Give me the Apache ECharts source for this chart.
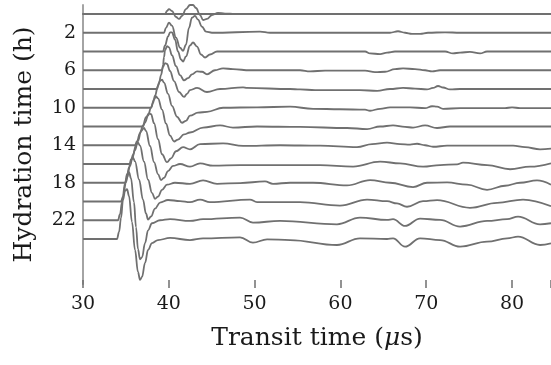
<!DOCTYPE html>
<html>
<head>
<meta charset="utf-8">
<script src="https://cdn.jsdelivr.net/npm/echarts@6/dist/echarts.min.js"></script>
<style>
  html, body { margin: 0; padding: 0; background: #ffffff; }
  #chart { width: 551px; height: 365px; }
</style>
</head>
<body>
<div id="chart"></div>
<script>
// Hydration time of each recorded trace (h)
const hours = [0, 2, 4, 6, 8, 10, 12, 14, 16, 18, 20, 22, 24];
// Labelled hours on the vertical axis
const hourLabels = [2, 6, 10, 14, 18, 22];
// Transit time ticks (µs)
const timeTicks = [30, 40, 50, 60, 70, 80];

// Each trace: [transit time (µs), signal amplitude in hour units, upward positive]
const trace00 = [[30,0],[39.56,0],[39.79,0.32],[40.02,0.53],[40.37,0.32],[40.84,-0.32],[41.19,-0.53],[41.54,-0.21],[42.00,0.53],[42.47,0.96],[42.82,0.96],[43.17,0.64],[43.64,-0.11],[43.99,-0.64],[44.45,-0.53],[45.03,-0.11],[45.73,0.11],[46.55,0.05],[47.72,0],[84.54,0]];
const trace02 = [[30,0],[39.44,0],[39.67,0.53],[40.02,1.07],[40.37,0.75],[40.84,-0.53],[41.31,-1.6],[41.66,-1.92],[42.00,-1.28],[42.35,0.53],[42.70,1.6],[43.05,1.81],[43.40,1.39],[43.87,0.64],[44.34,0.11],[45.03,0],[50.63,0.11],[51.8,0],[65.78,0],[66.71,0.16],[67.53,0],[68.34,-0.11],[69.28,-0.11],[70.21,0],[72.19,0.05],[73.94,0],[84.54,0]];
const trace04 = [[30,0],[39.32,0],[39.56,0.64],[39.91,1.6],[40.14,2.03],[40.37,2.03],[40.72,1.28],[41.07,0],[41.42,-0.85],[41.66,-1.07],[42.00,-0.53],[42.47,0.64],[42.82,0.96],[43.29,0.53],[43.75,-0.32],[44.22,-0.64],[44.80,-0.32],[45.62,0],[62.87,0],[63.45,-0.21],[64.62,-0.27],[65.43,-0.11],[66.36,0],[72.19,0],[73.12,-0.21],[73.94,-0.11],[75.10,-0.05],[76.27,-0.21],[77.09,0],[84.54,0]];
const trace06 = [[30,0],[39.21,0],[39.32,0.53],[39.44,1.39],[39.56,2.13],[39.79,2.56],[40.02,2.45],[40.37,1.6],[40.84,0.43],[41.31,-0.53],[41.77,-1.07],[42.24,-0.85],[42.70,-0.43],[43.29,-0.11],[43.87,-0.16],[44.45,-0.43],[45.38,0],[46.32,0.21],[47.48,0.11],[49.46,0],[55.29,0],[56.46,-0.11],[58.21,-0.05],[62.87,-0.05],[64.03,-0.21],[65.20,-0.16],[66.36,0.11],[67.30,0.21],[68.69,0.11],[69.86,0],[70.68,-0.11],[71.61,0],[84.54,0]];
const trace08 = [[30,0],[38.62,0],[38.86,0.64],[39.09,1.49],[39.32,2.35],[39.56,2.77],[39.79,2.67],[40.14,1.92],[40.61,0.85],[41.19,-0.32],[41.77,-0.85],[42.12,-0.53],[42.47,-0.11],[43.29,0.11],[44.45,-0.32],[45.97,0],[48.65,0.18],[49.11,0.11],[54.13,0],[55.29,-0.05],[57.04,-0.11],[62.28,-0.11],[64.27,-0.21],[65.78,0],[67.30,0.11],[68.69,0.05],[70.09,-0.05],[70.79,0.11],[71.38,0.32],[71.96,0.16],[72.77,-0.05],[73.94,0],[84.54,0]];
const trace10 = [[30,0],[37.93,0],[38.16,0.53],[38.39,1.28],[38.74,2.35],[38.97,2.88],[39.21,2.99],[39.44,2.67],[39.91,1.49],[40.37,0.21],[40.96,-0.96],[41.54,-1.6],[42.00,-1.39],[42.47,-0.85],[43.40,-0.53],[44.45,-0.43],[46.32,0],[50.28,0.05],[54.13,0.11],[56.81,-0.11],[59.95,-0.16],[62.87,-0.21],[63.45,-0.32],[64.62,-0.11],[65.78,0.05],[68.11,0.05],[69.86,-0.05],[70.68,0.16],[71.26,0.11],[71.96,-0.11],[73.94,-0.05],[79.18,-0.05],[80.00,0.05],[80.93,-0.05],[84.54,-0.05]];
const trace12 = [[30,0],[36.99,0],[37.23,0.43],[37.58,1.17],[37.93,2.03],[38.28,2.88],[38.51,3.2],[38.74,2.99],[39.21,1.81],[39.67,0.32],[40.14,-0.96],[40.61,-1.6],[41.07,-1.39],[41.77,-0.85],[42.47,-0.64],[43.99,-0.11],[45.97,0.11],[47.48,-0.11],[50.28,0],[55.29,-0.05],[60.77,-0.16],[63.10,-0.27],[64.62,0],[66.13,0.11],[67.53,-0.05],[68.46,-0.11],[69.86,0.11],[71.26,-0.16],[72.77,0],[84.54,0]];
const trace14 = [[30,0],[36.06,0],[36.29,0.43],[36.64,1.28],[36.99,2.13],[37.34,2.99],[37.69,3.41],[37.93,3.31],[38.28,2.35],[38.74,0.64],[39.21,-0.96],[39.79,-1.81],[40.26,-1.39],[40.84,-0.64],[41.66,-0.21],[42.47,-0.43],[43.64,0.11],[46.32,0.21],[48.65,-0.07],[52.96,0],[57.62,-0.05],[61.93,-0.21],[63.69,0.11],[65.43,0.27],[66.95,0.11],[68.11,0.07],[68.93,0.16],[69.86,0],[70.79,-0.16],[72.43,-0.05],[80.12,-0.05],[81.51,-0.21],[83.26,-0.43],[84.54,-0.37]];
const trace16 = [[30,0],[35.48,0],[35.71,0.53],[36.06,1.49],[36.41,2.45],[36.76,3.52],[37.11,3.84],[37.34,3.52],[37.81,1.92],[38.28,0.21],[38.74,-1.07],[39.09,-1.71],[39.44,-1.49],[39.91,-0.75],[40.49,-0.21],[41.31,0],[42.47,-0.29],[43.64,0.07],[45.15,-0.18],[48.30,-0.11],[57.62,-0.11],[61.47,-0.27],[64.62,0.25],[66.95,0.07],[69.63,-0.29],[71.61,-0.11],[73.59,-0.03],[74.29,0.14],[77.09,-0.11],[79.77,-0.56],[82.10,-0.29],[84.54,0.07]];
const trace18 = [[30,0],[34.90,0],[35.13,0.53],[35.48,1.81],[35.83,2.99],[36.18,4.05],[36.41,4.27],[36.64,3.95],[37.11,2.24],[37.58,0.32],[38.04,-1.07],[38.39,-1.71],[38.74,-1.49],[39.21,-0.75],[39.79,-0.21],[40.72,0],[42.47,-0.11],[43.99,0.25],[45.62,-0.11],[48.30,-0.03],[51.21,0.14],[52.14,-0.11],[54.13,0],[56.81,0],[60.77,-0.29],[63.45,0.29],[65.78,0],[68.46,-0.46],[70.09,0],[72.43,0.03],[74.75,-0.21],[77.09,-0.75],[79.18,-0.32],[80.93,0],[82.91,0.25],[84.54,-0.21]];
const trace20 = [[30,0],[34.43,0],[34.66,0.53],[35.01,2.03],[35.36,3.63],[35.59,4.48],[35.83,4.69],[36.06,4.27],[36.53,2.35],[36.99,0.21],[37.34,-1.28],[37.58,-1.92],[37.93,-1.6],[38.39,-0.75],[38.97,-0.11],[39.91,0.16],[41.31,0.05],[42.47,-0.07],[43.64,0.21],[44.80,-0.07],[49.46,0.21],[50.28,-0.07],[55.29,-0.07],[59.95,-0.43],[63.10,0.21],[65.43,0.03],[66.60,-0.21],[67.76,-0.56],[69.63,0.03],[71.26,0.14],[75.10,-0.67],[78.25,-0.14],[81.28,0.21],[84.54,-0.5]];
const trace22 = [[30,0],[34.08,0],[34.31,0.64],[34.55,1.92],[34.90,3.95],[35.13,4.91],[35.36,5.12],[35.59,4.48],[35.94,1.92],[36.18,-0.75],[36.41,-3.09],[36.64,-4.16],[36.88,-3.95],[37.23,-2.45],[37.58,-1.07],[38.04,-0.32],[38.97,0],[40.14,0.11],[42.47,-0.07],[43.99,0.11],[48.30,0.29],[49.81,-0.25],[52.96,-0.07],[59.60,-0.43],[62.28,0.29],[65.43,0.03],[66.13,0.11],[67.53,-0.61],[69.28,0.18],[71.61,0.03],[73.94,-0.67],[77.09,-0.07],[79.42,0.11],[80.70,0.39],[83.26,-0.43],[84.54,-0.32]];
const trace24 = [[30,0],[33.96,0],[34.20,0.75],[34.43,2.24],[34.66,4.16],[34.90,5.12],[35.13,5.33],[35.36,4.59],[35.71,1.81],[36.06,-1.17],[36.41,-3.52],[36.64,-4.37],[36.88,-4.05],[37.23,-2.56],[37.58,-1.17],[38.04,-0.43],[38.74,-0.11],[40.14,0.11],[42.47,-0.11],[43.99,0.07],[48.30,0.18],[49.81,-0.39],[51.45,-0.03],[54.13,-0.11],[59.60,-0.64],[62.28,0.07],[65.43,0],[66.13,0.07],[67.53,-0.82],[69.28,0.07],[71.61,-0.11],[73.94,-0.82],[77.09,-0.29],[79.42,0.07],[80.70,0.25],[83.26,-0.64],[84.54,-0.46]];

const traces = [trace00, trace02, trace04, trace06, trace08, trace10, trace12,
                trace14, trace16, trace18, trace20, trace22, trace24];

const serif = 'DejaVu Serif';
const tMin = 30, tMax = 84.54;
const axisGrey = '#6f6f6f';

const chart = echarts.init(document.getElementById('chart'), null, { renderer: 'canvas' });

const series = traces.map((pts, i) => ({
  type: 'line',
  xAxisIndex: 0,
  yAxisIndex: 0,
  data: pts.map(([t, a]) => [t, hours[i] - a]),
  symbol: 'none',
  smooth: 0.4,
  smoothMonotone: 'x',
  clip: false,
  silent: true,
  lineStyle: { color: '#707070', width: 1.8 }
}));

chart.setOption({
  animation: false,
  backgroundColor: '#ffffff',
  grid: { left: 83, right: 0, top: 5, bottom: 81 },
  xAxis: [
    {
      type: 'value',
      min: tMin,
      max: tMax,
      interval: 10,
      position: 'bottom',
      splitLine: { show: false },
      axisLine: { show: true, lineStyle: { color: axisGrey, width: 2 } },
      axisTick: { show: false },
      axisLabel: {
        margin: 11,
        fontFamily: serif,
        fontSize: 19,
        color: '#1a1a1a',
        customValues: timeTicks
      },
      name: 'Transit time ({i|μ}s)',
      nameLocation: 'middle',
      nameGap: 42,
      nameTextStyle: {
        fontFamily: serif,
        fontSize: 25,
        color: '#1a1a1a',
        rich: { i: { fontFamily: serif, fontSize: 25, fontStyle: 'italic', color: '#1a1a1a' } }
      }
    },
    {
      // tick marks that cross the axis line, shifted up by half their length
      type: 'value',
      min: tMin,
      max: tMax,
      interval: 10,
      position: 'bottom',
      offset: -4,
      splitLine: { show: false },
      axisLine: { show: false },
      axisTick: { show: true, length: 8, lineStyle: { color: axisGrey, width: 1.5 } },
      axisLabel: { show: false }
    }
  ],
  yAxis: {
    type: 'value',
    inverse: true,
    min: -0.96,
    max: 28.8,
    splitLine: { show: false },
    axisLine: { show: true, lineStyle: { color: '#a4a4a4', width: 2 } },
    axisTick: { show: false },
    axisLabel: {
      margin: 7,
      fontFamily: serif,
      fontSize: 19,
      color: '#1a1a1a',
      customValues: hourLabels
    },
    name: 'Hydration time (h)',
    nameLocation: 'middle',
    nameGap: 46,
    nameRotate: 90,
    nameTextStyle: { fontFamily: serif, fontSize: 25, color: '#1a1a1a' }
  },
  series: series
});
</script>
</body>
</html>
